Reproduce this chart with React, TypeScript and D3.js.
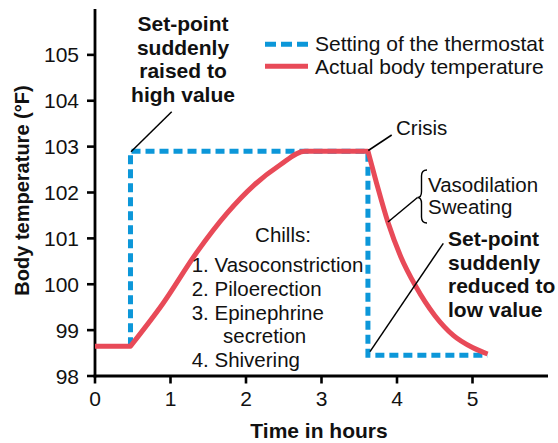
import React from "react";
import * as d3 from "d3";

// ---- data ----
const yTicks = [98, 99, 100, 101, 102, 103, 104, 105];
const xTicks = [0, 1, 2, 3, 4, 5];

// Setting of the thermostat (set-point)
const setPoint: [number, number][] = [
  [0.47, 98.65],
  [0.47, 102.9],
  [3.615, 102.9],
  [3.615, 98.45],
  [5.2, 98.45],
];

// Actual body temperature
const bodyFlat: [number, number][] = [
  [0, 98.65],
  [0.47, 98.65],
];
const bodyRise: [number, number][] = [
  [0.47, 98.65],
  [0.9, 99.58],
  [1.35, 100.7],
  [1.75, 101.55],
  [2.1, 102.15],
  [2.45, 102.6],
  [2.78, 102.9],
  [3.615, 102.9],
];
const bodyFall: [number, number][] = [
  [3.615, 102.9],
  [3.73, 102.2],
  [3.88, 101.35],
  [4.05, 100.6],
  [4.25, 99.95],
  [4.5, 99.32],
  [4.75, 98.88],
  [5.0, 98.62],
  [5.2, 98.48],
];

const legendLabels = ["Setting of the thermostat", "Actual body temperature"];
const raisedNote = ["Set-point", "suddenly", "raised to", "high value"];
const reducedNote = ["Set-point", "suddenly", "reduced to", "low value"];
const chillsItems = ["1. Vasoconstriction", "2. Piloerection", "3. Epinephrine"];

const BLUE = "#0c97d9";
const RED = "#e84a58";
const FONT = "'Liberation Sans', Arial, Helvetica, sans-serif";

export default function App() {
  const W = 558;
  const H = 443;
  const x = d3.scaleLinear().domain([0, 6]).range([95, 548]);
  const y = d3.scaleLinear().domain([98, 106]).range([376, 9]);

  const lin = d3
    .line<[number, number]>()
    .x((d) => x(d[0]))
    .y((d) => y(d[1]));
  const mono = d3
    .line<[number, number]>()
    .x((d) => x(d[0]))
    .y((d) => y(d[1]))
    .curve(d3.curveMonotoneX);

  const redPath =
    (lin(bodyFlat) || "") +
    (mono(bodyRise) || "").replace(/^M/, "L") +
    (mono(bodyFall) || "").replace(/^M/, "L");

  const bluePath = lin(setPoint) || "";

  return (
    <svg
      width={W}
      height={H}
      style={{ position: "absolute", left: 0, top: 0, background: "#fff" }}
      fontFamily={FONT}
    >
      {/* axes */}
      <line x1={x(0)} x2={x(0)} y1={y(106)} y2={y(98) + 1.4} stroke="#000" strokeWidth={2.8} />
      <line x1={x(0) - 1.4} x2={x(6)} y1={y(98)} y2={y(98)} stroke="#000" strokeWidth={2.8} />
      {yTicks.map((t) => (
        <g key={"y" + t}>
          <line x1={x(0) - 8} x2={x(0)} y1={y(t)} y2={y(t)} stroke="#000" strokeWidth={2.6} />
          <text x={79} y={y(t)} dy="0.36em" textAnchor="end" fontSize={21} fill="#111">
            {t}
          </text>
        </g>
      ))}
      {xTicks.map((t) => (
        <g key={"x" + t}>
          <line x1={x(t)} x2={x(t)} y1={y(98)} y2={y(98) + 7.5} stroke="#000" strokeWidth={2.6} />
          <text x={x(t)} y={406} textAnchor="middle" fontSize={21} fill="#111">
            {t}
          </text>
        </g>
      ))}
      <text x={319} y={438} textAnchor="middle" fontSize={21} fontWeight="bold" fill="#111">
        Time in hours
      </text>
      <text
        transform="translate(29,190.5) rotate(-90)"
        textAnchor="middle"
        fontSize={20}
        fontWeight="bold"
        fill="#111"
      >
        Body temperature (°F)
      </text>

      {/* series */}
      <path d={bluePath} fill="none" stroke={BLUE} strokeWidth={5} strokeDasharray="9,5" />
      <path d={redPath} fill="none" stroke={RED} strokeWidth={5} strokeLinejoin="round" />

      {/* legend */}
      <line x1={265} x2={308} y1={44.3} y2={44.3} stroke={BLUE} strokeWidth={5} strokeDasharray="11,5" />
      <line x1={265} x2={308} y1={66.3} y2={66.3} stroke={RED} strokeWidth={5} />
      <text x={315} y={51} fontSize={21} fill="#111">{legendLabels[0]}</text>
      <text x={315} y={74} fontSize={21} fill="#111">{legendLabels[1]}</text>

      {/* annotation: set-point raised */}
      {raisedNote.map((s, i) => (
        <text key={"r" + i} x={183} y={31 + i * 23.5} textAnchor="middle" fontSize={21} fontWeight="bold" fill="#111">
          {s}
        </text>
      ))}
      <line x1={171.7} y1={111.7} x2={131} y2={151.7} stroke="#000" strokeWidth={1.5} />

      {/* Crisis */}
      <text x={396} y={135} fontSize={20.5} fill="#111">Crisis</text>
      <line x1={368.3} y1={150.5} x2={391.7} y2={135} stroke="#000" strokeWidth={1.5} />

      {/* Vasodilation / Sweating */}
      <path
        d="M427,170 Q421.5,170 421.5,176 L421.5,191.5 Q421.5,197.5 417.5,197.5 Q421.5,197.5 421.5,203.5 L421.5,217 Q421.5,223 427,223"
        fill="none"
        stroke="#000"
        strokeWidth={1.4}
      />
      <line x1={417.5} y1={197.5} x2={388} y2={222} stroke="#000" strokeWidth={1.5} />
      <text x={428} y={191.7} fontSize={20.5} fill="#111">Vasodilation</text>
      <text x={428} y={213.5} fontSize={20.5} fill="#111">Sweating</text>

      {/* annotation: set-point reduced */}
      {reducedNote.map((s, i) => (
        <text key={"d" + i} x={448} y={246 + i * 23.5} fontSize={21} fontWeight="bold" fill="#111">
          {s}
        </text>
      ))}
      <line x1={443.3} y1={243.3} x2={370} y2={351.7} stroke="#000" strokeWidth={1.5} />

      {/* Chills */}
      <text x={283} y={241.7} textAnchor="middle" fontSize={20.5} fill="#111">Chills:</text>
      {chillsItems.map((s, i) => (
        <text key={"c" + i} x={191.7} y={271.7 + i * 24} fontSize={20.5} fill="#111">
          {s}
        </text>
      ))}
      <text x={223} y={343.3} fontSize={20.5} fill="#111">secretion</text>
      <text x={191.7} y={366.7} fontSize={20.5} fill="#111">4. Shivering</text>
    </svg>
  );
}
